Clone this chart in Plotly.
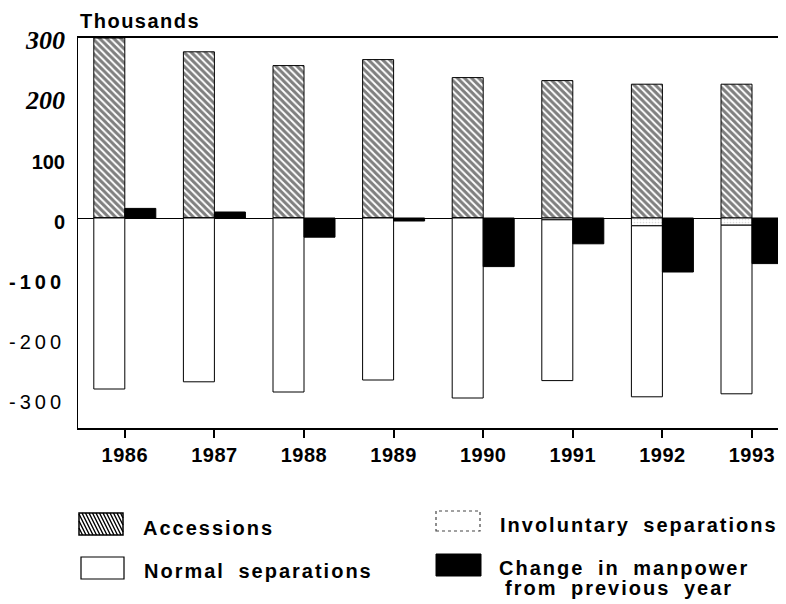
import plotly.graph_objects as go

# ---------------- data (thousands) ----------------
years = ["1986", "1987", "1988", "1989", "1990", "1991", "1992", "1993"]
accessions = [300, 277, 254, 264, 234, 229, 223, 223]
normal_separations = [-285, -273, -290, -270, -300, -268, -285, -281]
involuntary_separations = [0, 0, 0, 0, 0, -3, -13, -12]
change_in_manpower = [16, 10, -32, -5, -81, -43, -90, -76]

y_tick_values = [300, 200, 100, 0, -100, -200, -300]
y_tick_labels = ["300", "200", "100", "0", "-100", "-200", "-300"]
y_tick_styles = ["serif", "serif", "bold", "bold", "bold_spaced", "spaced", "spaced"]

legend_labels = ["Accessions", "Involuntary separations", "Normal separations",
                 "Change in manpower", "from previous year"]

# ---------------- geometry ----------------
# the page body adds an 8px margin, so the figure is drawn 8px in from the window corner
PAGE_OFF = 8
W, H = 786 - PAGE_OFF, 604 - PAGE_OFF
plot_left_ref, plot_top_ref, plot_bottom_ref = 78, 38, 428
L = plot_left_ref - PAGE_OFF
T = plot_top_ref - PAGE_OFF
B = H - (plot_bottom_ref - PAGE_OFF)
R = 0
PW, PH = W - L - R, H - T - B
cat_px = 89.6
x_left = (plot_left_ref - 124.8) / cat_px
x_right = x_left + PW / cat_px
bw = 31 / cat_px

def px_x(p):
    return (p - plot_left_ref) / PW

def px_y(p):
    return (plot_bottom_ref - p) / PH

pos = list(range(len(years)))
black_line = dict(color="black", width=1)

fig = go.Figure()
fig.add_trace(go.Bar(
    x=pos, y=accessions, base=[0] * len(pos), offset=-bw, width=bw,
    name="Accessions",
    marker=dict(color="white", line=black_line,
                pattern=dict(shape="\\", fgcolor="black", bgcolor="white",
                             size=5, solidity=0.6)),
))
fig.add_trace(go.Bar(
    x=pos, y=involuntary_separations, base=[0] * len(pos), offset=-bw, width=bw,
    name="Involuntary separations",
    marker=dict(color="white", line=black_line,
                pattern=dict(shape=".", fgcolor="#bdbdbd", bgcolor="white",
                             size=3, solidity=0.25)),
))
fig.add_trace(go.Bar(
    x=pos, y=normal_separations, base=involuntary_separations, offset=-bw, width=bw,
    name="Normal separations",
    marker=dict(color="white", line=black_line),
))
fig.add_trace(go.Bar(
    x=pos, y=change_in_manpower, base=[0] * len(pos), offset=0, width=bw,
    name="Change in manpower from previous year",
    marker=dict(color="black", line=black_line),
))

def style_tick(label, kind):
    if kind == "serif":
        return ('<span style="font-family:Liberation Serif;font-size:26px">'
                '<b><i>%s</i></b></span>' % label)
    if kind == "bold":
        return '<b>%s</b>' % label
    if kind == "bold_spaced":
        return '<b><span style="letter-spacing:4px">%s</span></b>' % label
    return '<span style="letter-spacing:4px">%s</span>' % label

fig.update_layout(
    width=W, height=H, autosize=False,
    margin=dict(l=L, r=R, t=T, b=B, pad=0),
    paper_bgcolor="white", plot_bgcolor="white",
    barmode="overlay", showlegend=False,
    font=dict(family="Liberation Sans", color="black", size=20),
    xaxis=dict(
        range=[x_left, x_right], tickmode="array", tickvals=pos,
        ticktext=['<b><span style="letter-spacing:0.5px">%s</span></b>' % y for y in years],
        ticks="outside", ticklen=8, tickcolor="black", tickwidth=1.5,
        showline=True, linecolor="black", linewidth=1.5, mirror=True,
        showgrid=False, zeroline=False,
        tickfont=dict(family="Liberation Sans", size=20, color="black"),
    ),
    yaxis=dict(
        range=[-350, 300], tickmode="array", tickvals=y_tick_values,
        ticktext=[style_tick(l, k) for l, k in zip(y_tick_labels, y_tick_styles)],
        ticks="", showline=True, linecolor="black", linewidth=1,
        showgrid=False, zeroline=True, zerolinecolor="black", zerolinewidth=1,
        ticklabelstandoff=8, ticklabelshift=4,
        tickfont=dict(family="Liberation Sans", size=20, color="black"),
    ),
)

# title
fig.add_annotation(text='<b><span style="letter-spacing:1.5px">Thousands</span></b>',
                   xref="paper", yref="paper",
                   x=px_x(78), y=px_y(21), xanchor="left", yanchor="middle",
                   showarrow=False, font=dict(size=20))

# ---------------- custom legend ----------------
shapes = []
sx0, sx1, sy0, sy1 = 79, 123, 513, 535
shapes.append(dict(type="rect", xref="paper", yref="paper",
                   x0=px_x(sx0), x1=px_x(sx1), y0=px_y(sy1), y1=px_y(sy0),
                   line=dict(color="black", width=1.5), fillcolor="white"))
segs = []
hgt = sy1 - sy0
dx_total = hgt * 0.5
c = sx0 - dx_total
while c < sx1:
    xa, ya = c, sy0
    xb, yb = c + dx_total, sy1
    if xa < sx0:
        t = (sx0 - xa) / (xb - xa)
        xa, ya = sx0, ya + t * (yb - ya)
    if xb > sx1:
        t = (sx1 - xa) / (xb - xa)
        xb, yb = sx1, ya + t * (yb - ya)
    if xb > xa:
        segs.append("M %.5f %.5f L %.5f %.5f" % (px_x(xa), px_y(ya), px_x(xb), px_y(yb)))
    c += 3.5
shapes.append(dict(type="path", xref="paper", yref="paper", path=" ".join(segs),
                   line=dict(color="black", width=1.4)))
shapes.append(dict(type="rect", xref="paper", yref="paper",
                   x0=px_x(81), x1=px_x(124), y0=px_y(579), y1=px_y(557),
                   line=dict(color="black", width=1.2), fillcolor="white"))
shapes.append(dict(type="rect", xref="paper", yref="paper",
                   x0=px_x(436), x1=px_x(480), y0=px_y(531), y1=px_y(511),
                   line=dict(color="#444", width=1.2, dash="dot"), fillcolor="white"))
shapes.append(dict(type="rect", xref="paper", yref="paper",
                   x0=px_x(436), x1=px_x(481), y0=px_y(576), y1=px_y(554),
                   line=dict(color="black", width=1), fillcolor="black"))
fig.update_layout(shapes=shapes)

legend_pos = [(141, 528), (498, 525), (142, 571), (497, 568), (503, 588)]
for lab, (lx, ly) in zip(legend_labels, legend_pos):
    fig.add_annotation(
        text='<b><span style="letter-spacing:2px;word-spacing:6px">%s</span></b>' % lab,
        xref="paper", yref="paper", x=px_x(lx), y=px_y(ly),
        xanchor="left", yanchor="middle", showarrow=False,
        font=dict(size=20, family="Liberation Sans", color="black"))

fig.write_html("out.html")
